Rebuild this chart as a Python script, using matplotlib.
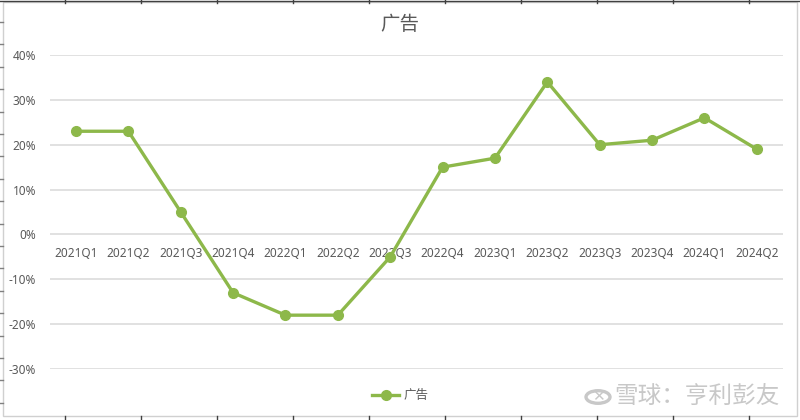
import matplotlib
matplotlib.use("Agg")
import matplotlib.pyplot as plt
from matplotlib.lines import Line2D
from matplotlib.patches import Rectangle, Circle

plt.rcParams['font.family'] = ['Noto Sans CJK SC', 'DejaVu Sans']

categories = ["2021Q1", "2021Q2", "2021Q3", "2021Q4", "2022Q1", "2022Q2", "2022Q3",
              "2022Q4", "2023Q1", "2023Q2", "2023Q3", "2023Q4", "2024Q1", "2024Q2"]
values = [23, 23, 5, -13, -18, -18, -5, 15, 17, 34, 20, 21, 26, 19]
y_ticks = [-30, -20, -10, 0, 10, 20, 30, 40]
series_name = "广告"
title = "广告"

W, H = 800, 420
fig = plt.figure(figsize=(8, 4.2), dpi=100)
fig.patch.set_facecolor("white")

left, right, top, bottom = 49.8, 783, 55, 369
ax = fig.add_axes([left / W, 1 - bottom / H, (right - left) / W, (bottom - top) / H])

green = "#8db84a"
x = list(range(len(categories)))
ax.plot(x, values, color=green, lw=2.4, marker="o", ms=7, mfc=green, mec=green,
        solid_joinstyle="miter", zorder=3, label=series_name)

ax.set_xlim(-0.5, len(categories) - 0.5)
ax.set_ylim(-30, 40)
ax.set_yticks(y_ticks)
ax.set_yticklabels([f"{t}%" for t in y_ticks], color="#595959", fontsize=8.5,
                   family=['Noto Sans', 'DejaVu Sans'])
ax.tick_params(axis="y", length=0, pad=10)
ax.set_xticks([])
ax.grid(axis="y", color="#d9d9d9", lw=1.1)
ax.set_axisbelow(True)
for s in ax.spines.values():
    s.set_visible(False)

for i, c in enumerate(categories):
    ax.annotate(c, (i, 0), xytext=(0, -9), textcoords="offset points",
                ha="center", va="top", fontsize=8.5, color="#595959",
                family=['Noto Sans', 'DejaVu Sans'], zorder=2)

fig.text(0.5, 1 - 25 / H, title, ha="center", va="center", fontsize=14, color="#595959")

handle = Line2D([], [], color=green, lw=2.4, marker="o", ms=7, mfc=green, mec=green)
fig.legend([handle], [series_name], loc="center", bbox_to_anchor=(0.5, 1 - 396 / H),
           frameon=False, fontsize=9, handlelength=2.2, handletextpad=0.3,
           labelcolor="#595959")

# chart border and ruler-like marks
fig.add_artist(Rectangle((3 / W, 1 - 416 / H), 794 / W, 414 / H, transform=fig.transFigure,
                         fill=False, ec="#d0d0d0", lw=1))
fig.add_artist(Line2D([0, 1], [1 - 0.5 / H, 1 - 0.5 / H], transform=fig.transFigure,
                      color="#404040", lw=1))
for k in range(11):
    xp = (65 + 76 * k) / W
    if xp < 1:
        fig.add_artist(Line2D([xp, xp], [1, 1 - 3 / H], transform=fig.transFigure, color="#404040", lw=1))
        fig.add_artist(Line2D([xp, xp], [1 - 416 / H, 0], transform=fig.transFigure, color="#404040", lw=1))
for k in range(19):
    yp = 1 - (22 + 22.4 * k) / H
    if yp > 0:
        fig.add_artist(Line2D([0, 3 / W], [yp, yp], transform=fig.transFigure, color="#808080", lw=1))

# watermark
fig.add_artist(Circle((598 / W, 1 - 397 / H), 12 / W, transform=fig.transFigure,
                      fill=False, ec="#c8c8c8", lw=2.4))
fig.text(598 / W, 1 - 397 / H, "✕", ha="center", va="center", fontsize=11, color="#c8c8c8",
         family=['DejaVu Sans'])
fig.text(614 / W, 1 - 397 / H, "雪球：亨利彭友", ha="left", va="center", fontsize=17,
         color="#c8c8c8")

fig.savefig("out.png", dpi=100, facecolor="white")
